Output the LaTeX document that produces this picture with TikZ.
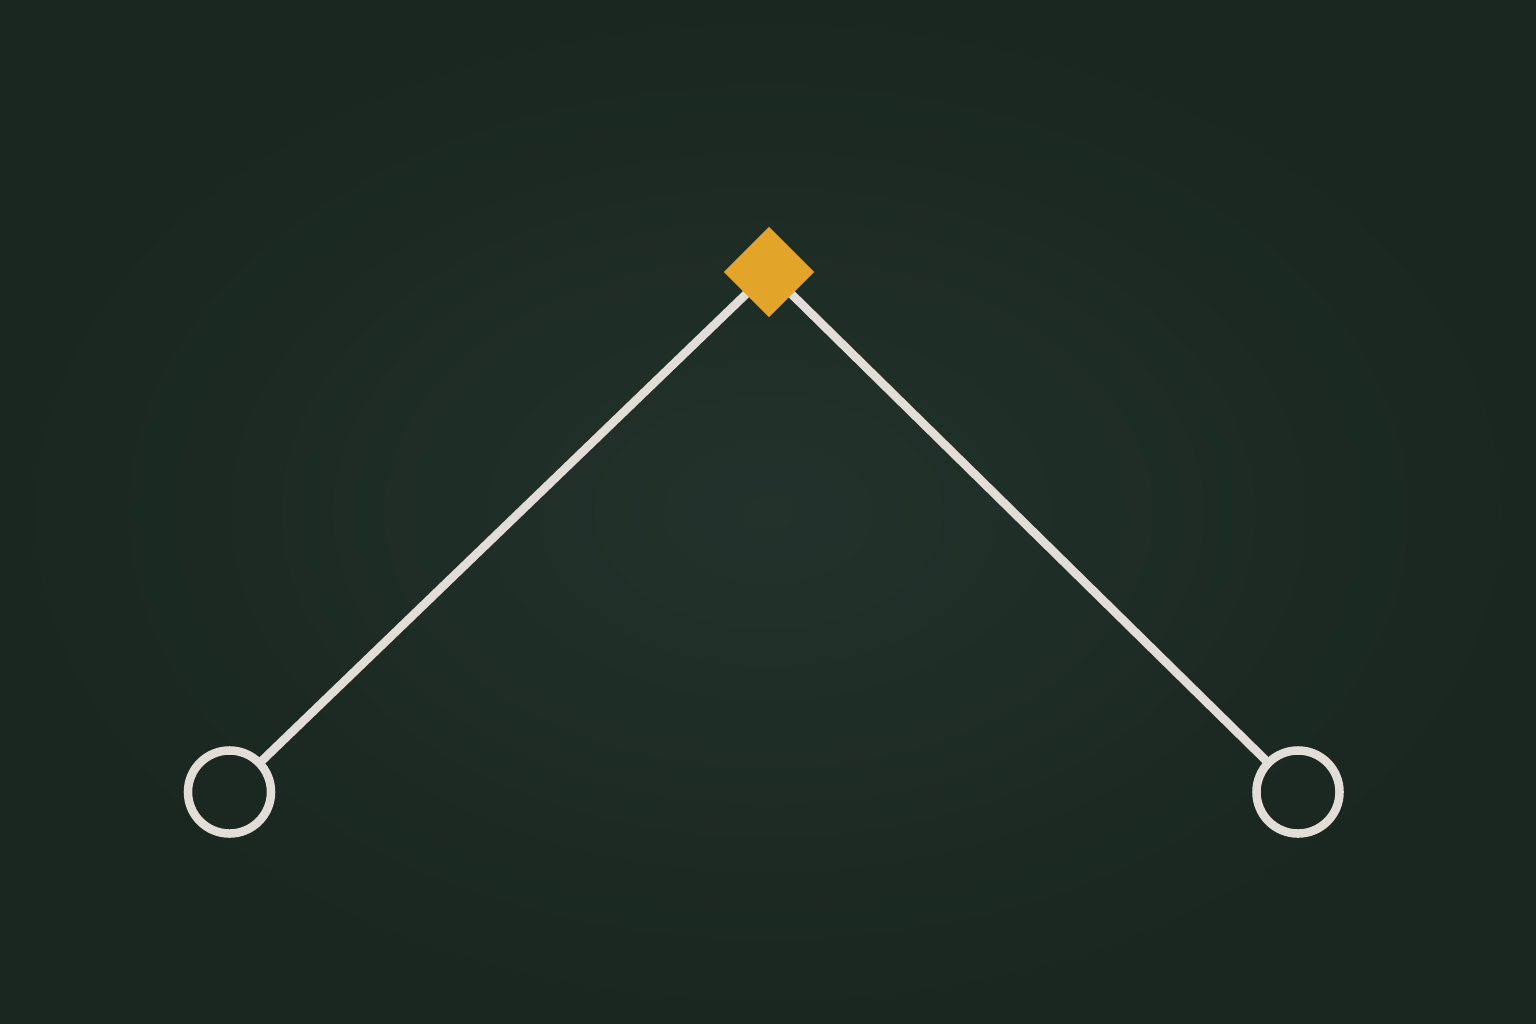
\documentclass[tikz,border=0pt]{standalone}
\usetikzlibrary{shapes.geometric}
\pgfdeclarelayer{bg}
\pgfdeclarelayer{lines}
\pgfsetlayers{bg,lines,main}
\definecolor{board}{HTML}{1F2D27}
\definecolor{boardedge}{HTML}{19251F}
\definecolor{boardmid}{HTML}{24342D}
\definecolor{chalk}{HTML}{E2DDD6}
\definecolor{goldchalk}{HTML}{E2A52A}
\tikzset{
  chalkline/.style={draw=chalk, line width=0.085cm, line cap=round},
  ring/.style={circle, draw=chalk, line width=0.085cm, minimum size=0.83cm, inner sep=0pt},
  hub/.style={diamond, fill=goldchalk, minimum width=0.91cm, minimum height=0.91cm, inner sep=0pt}
}
\begin{document}
\begin{tikzpicture}[x=0.01cm, y=-0.01cm]
\begin{pgfonlayer}{bg}
  \fill[board] (0,0) rectangle (1536,1024);
  \shade[inner color=boardmid, outer color=boardedge, opacity=0.8] (0,0) rectangle (1536,1024);
\end{pgfonlayer}
\useasboundingbox (0,0) rectangle (1536,1024);
\node[hub] (d) at (769,272) {};
\node[ring] (l) at (229.5,792) {};
\node[ring] (r) at (1298,792) {};
\begin{pgfonlayer}{lines}
  \draw[chalkline] (d.center) -- (l);
  \draw[chalkline] (d.center) -- (r);
\end{pgfonlayer}
\end{tikzpicture}
\end{document}
